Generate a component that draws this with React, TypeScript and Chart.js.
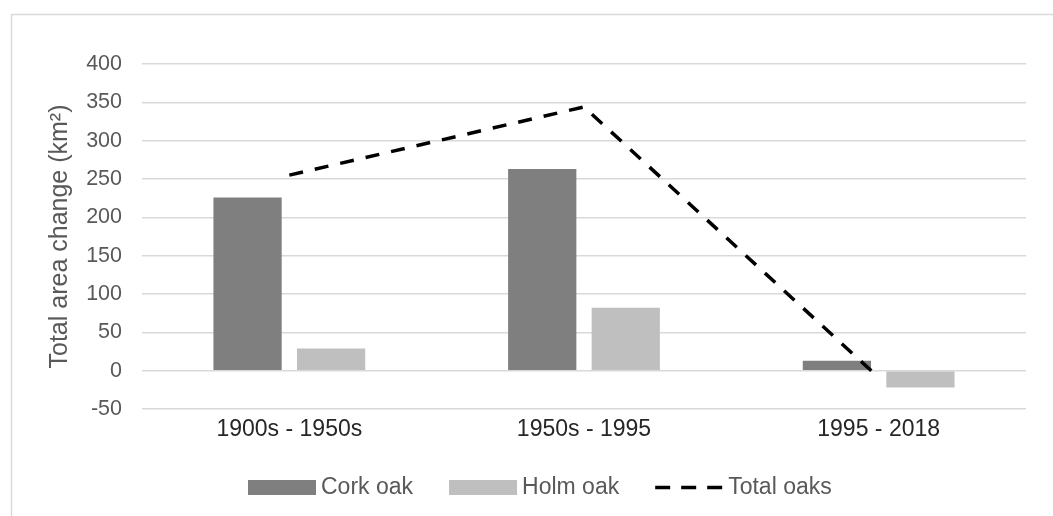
import React, { useEffect, useRef } from "react";
import { Chart, registerables } from "chart.js";

Chart.register(...registerables);

const categories = ["1900s - 1950s", "1950s - 1995", "1995 - 2018"];
const corkOak = [226, 263, 13];
const holmOak = [29, 82, -22];
const totalOaks = [255, 344, -9];
const seriesLabels = ["Cork oak", "Holm oak", "Total oaks"];
const yMin = -50;
const yMax = 400;
const yStep = 50;
const yTitle = "Total area change (km²)";

const FONT = '"Liberation Sans", Arial, Helvetica, sans-serif';

const frameAndLegend = {
  id: "frameAndLegend",
  beforeDraw(chart: any) {
    const ctx = chart.ctx;
    ctx.save();
    ctx.strokeStyle = "#d9d9d9";
    ctx.lineWidth = 1.5;
    ctx.beginPath();
    ctx.moveTo(11.5, chart.height);
    ctx.lineTo(11.5, 14.5);
    ctx.lineTo(chart.width, 14.5);
    ctx.stroke();
    ctx.restore();
  },
  afterDraw(chart: any) {
    const ctx = chart.ctx;
    const ds = chart.data.datasets;
    const y = 487;
    let x = 248;
    const symW = 68;
    ctx.save();
    ctx.font = `23px ${FONT}`;
    ctx.textBaseline = "middle";
    ctx.textAlign = "left";
    for (const d of ds) {
      if (d.type === "line") {
        ctx.strokeStyle = d.borderColor;
        ctx.lineWidth = d.borderWidth;
        ctx.lineCap = "butt";
        ctx.setLineDash([15, 11]);
        ctx.beginPath();
        ctx.moveTo(x, y + 0.5);
        ctx.lineTo(x + symW, y + 0.5);
        ctx.stroke();
        ctx.setLineDash([]);
      } else {
        ctx.fillStyle = d.backgroundColor;
        ctx.fillRect(x, y - 7, symW, 15);
      }
      x += symW + 5;
      ctx.fillStyle = "#595959";
      ctx.fillText(d.label, x, y + 1);
      x += ctx.measureText(d.label).width + 36;
    }
    ctx.restore();
  },
};

export default function App() {
  const ref = useRef<HTMLCanvasElement | null>(null);
  useEffect(() => {
    if (!ref.current) return;
    const chart = new Chart(ref.current, {
      type: "bar",
      data: {
        labels: categories,
        datasets: [
          {
            type: "bar",
            label: seriesLabels[0],
            data: corkOak,
            backgroundColor: "#7f7f7f",
            borderWidth: 0,
            order: 1,
            categoryPercentage: 0.567,
            barPercentage: 0.817,
          } as any,
          {
            type: "bar",
            label: seriesLabels[1],
            data: holmOak,
            backgroundColor: "#bfbfbf",
            borderWidth: 0,
            order: 1,
            categoryPercentage: 0.567,
            barPercentage: 0.817,
          } as any,
          {
            type: "line",
            label: seriesLabels[2],
            data: totalOaks,
            borderColor: "#000000",
            backgroundColor: "#000000",
            borderWidth: 3.5,
            borderDash: [14, 12.1],
            borderCapStyle: "butt",
            pointRadius: 0,
            pointHoverRadius: 0,
            fill: false,
            tension: 0,
            order: 0,
          } as any,
        ],
      },
      options: {
        responsive: false,
        animation: false,
        layout: { padding: { left: 0, top: 64, right: 27, bottom: 0 } },
        plugins: {
          legend: { display: false },
          tooltip: { enabled: false },
        },
        scales: {
          x: {
            grid: { display: false, drawTicks: false },
            border: { display: false },
            ticks: {
              font: { family: FONT, size: 23 },
              color: "#262626",
              padding: 7,
              maxRotation: 0,
              autoSkip: false,
            },
            afterFit: (s: any) => {
              s.height = 107;
            },
          },
          y: {
            min: yMin,
            max: yMax,
            ticks: {
              stepSize: yStep,
              font: { family: FONT, size: 21.5 },
              color: "#595959",
              padding: 20,
            },
            grid: { color: "#d9d9d9", lineWidth: 1.5, drawTicks: false },
            border: { display: false },
            title: {
              display: true,
              text: yTitle,
              font: { family: FONT, size: 25 },
              color: "#595959",
              padding: { top: 45, bottom: 0 },
            },
            afterFit: (s: any) => {
              s.width = 142;
            },
          },
        },
      },
      plugins: [frameAndLegend],
    });
    return () => chart.destroy();
  }, []);
  return (
    <div style={{ position: "fixed", left: 0, top: 0, width: 1053, height: 516, background: "#ffffff" }}>
      <canvas ref={ref} width={1053} height={516} style={{ display: "block", width: 1053, height: 516 }} />
    </div>
  );
}
